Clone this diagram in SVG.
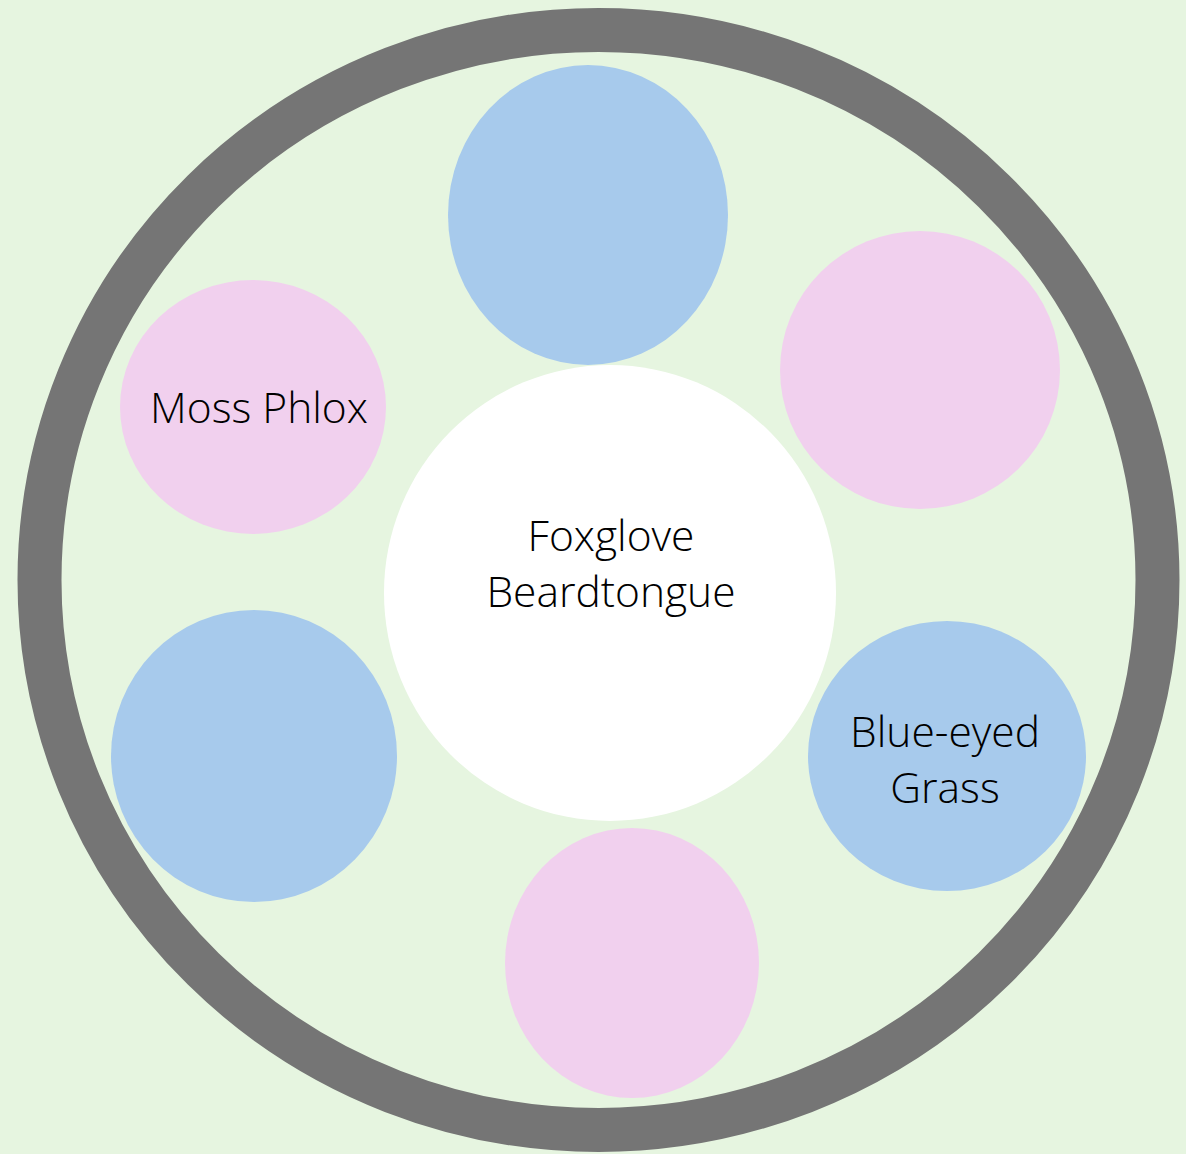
<svg xmlns="http://www.w3.org/2000/svg" width="1186" height="1154" viewBox="0 0 1186 1154">
<style>
.blue{fill:#A7CAEC}
.pink{fill:#F1D0EE}
.lbl{font-family:"Open Sans","Noto Sans","Liberation Sans",sans-serif;font-weight:300;font-size:42.5px;fill:#000;text-anchor:middle}
</style>
<rect width="1186" height="1154" fill="#E6F5E0"/>
<g id="ring"><ellipse cx="598.5" cy="580" rx="559" ry="550" fill="none" stroke="#757575" stroke-width="44"/></g>
<g id="connectors"></g>
<g id="top-blue"><ellipse class="blue" cx="588" cy="215" rx="140" ry="150"/></g>
<g id="right-pink"><ellipse class="pink" cx="920" cy="370" rx="140" ry="139"/></g>
<g id="moss-phlox"><ellipse class="pink" cx="253" cy="407" rx="133" ry="127"/><text class="lbl" x="259" y="423">Moss Phlox</text></g>
<g id="foxglove"><ellipse fill="#FFFFFF" cx="610" cy="593" rx="226" ry="228"/><text class="lbl" x="611" y="551">Foxglove</text><text class="lbl" x="611" y="607">Beardtongue</text></g>
<g id="left-blue"><ellipse class="blue" cx="254" cy="756" rx="143" ry="146"/></g>
<g id="blue-eyed-grass"><ellipse class="blue" cx="947" cy="756" rx="139" ry="135"/><text class="lbl" x="945" y="747">Blue-eyed</text><text class="lbl" x="945" y="803">Grass</text></g>
<g id="bottom-pink"><ellipse class="pink" cx="632" cy="963" rx="127" ry="135"/></g>
</svg>
